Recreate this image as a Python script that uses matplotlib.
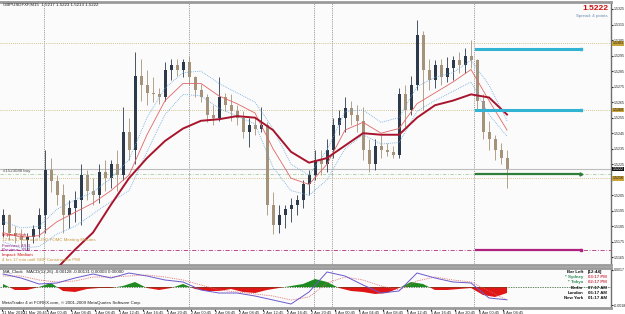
import matplotlib
matplotlib.use("Agg")
import matplotlib.pyplot as plt

plt.rcParams['font.family'] = ['Liberation Sans', 'DejaVu Sans']

W, H = 625, 314

# GBPUSD, bars (one per hour)
opens = [1.5186, 1.5192, 1.5181, 1.5179, 1.5176, 1.5178, 1.5183, 1.5192, 1.5221, 1.5214,
         1.5205, 1.5192, 1.5197, 1.5202, 1.5218, 1.5208, 1.5205, 1.5220, 1.5216, 1.5225,
         1.5218, 1.5246, 1.5234, 1.5282, 1.5276, 1.5271, 1.5270, 1.5268, 1.5286, 1.5289,
         1.5286, 1.5291, 1.5281, 1.5273, 1.5268, 1.5257, 1.5255, 1.5268, 1.5263, 1.5259,
         1.5255, 1.5246, 1.5250, 1.5248, 1.5250, 1.5199, 1.5186, 1.5192, 1.5196, 1.5199,
         1.5202, 1.5212, 1.5218, 1.5228, 1.5225, 1.5234, 1.5250, 1.5255, 1.5261, 1.5257,
         1.5253, 1.5234, 1.5225, 1.5237, 1.5234, 1.5233, 1.5231, 1.5270, 1.5260, 1.5276,
         1.5308, 1.5286, 1.5279, 1.5289, 1.5281, 1.5287, 1.5292, 1.5289, 1.5295, 1.5292,
         1.5266, 1.5246, 1.5241, 1.5234, 1.5229]
highs = [1.5196, 1.5193, 1.5185, 1.5183, 1.5181, 1.5186, 1.5197, 1.5234, 1.5229, 1.5218,
         1.5212, 1.5202, 1.5208, 1.5225, 1.5221, 1.5216, 1.5225, 1.5228, 1.5228, 1.5234,
         1.5262, 1.5255, 1.5297, 1.5293, 1.5286, 1.5281, 1.5274, 1.5291, 1.5293, 1.5293,
         1.5293, 1.5295, 1.5282, 1.5277, 1.5270, 1.5263, 1.5281, 1.5271, 1.5270, 1.5263,
         1.5259, 1.5255, 1.5255, 1.5262, 1.5252, 1.5207, 1.5199, 1.5199, 1.5203, 1.5205,
         1.5215, 1.5221, 1.5234, 1.5234, 1.5241, 1.5255, 1.5260, 1.5268, 1.5266, 1.5263,
         1.5262, 1.5241, 1.5241, 1.5244, 1.5239, 1.5237, 1.5274, 1.5276, 1.5282, 1.5318,
         1.5311, 1.5293, 1.5292, 1.5293, 1.5294, 1.5295, 1.5297, 1.5300, 1.5305, 1.5293,
         1.5270, 1.5253, 1.5244, 1.5239, 1.5234]
lows = [1.5178, 1.5176, 1.5174, 1.5172, 1.5170, 1.5174, 1.5178, 1.5181, 1.5207, 1.5199,
        1.5181, 1.5184, 1.5188, 1.5186, 1.5202, 1.5199, 1.5200, 1.5208, 1.5210, 1.5208,
        1.5215, 1.5228, 1.5225, 1.5266, 1.5263, 1.5265, 1.5264, 1.5266, 1.5279, 1.5282,
        1.5281, 1.5276, 1.5268, 1.5265, 1.5252, 1.5250, 1.5253, 1.5259, 1.5253, 1.5250,
        1.5242, 1.5236, 1.5244, 1.5246, 1.5192, 1.5180, 1.5181, 1.5184, 1.5188, 1.5192,
        1.5197, 1.5205, 1.5215, 1.5218, 1.5220, 1.5229, 1.5244, 1.5246, 1.5250, 1.5246,
        1.5228, 1.5220, 1.5221, 1.5229, 1.5230, 1.5229, 1.5229, 1.5249, 1.5257, 1.5273,
        1.5260, 1.5273, 1.5274, 1.5276, 1.5278, 1.5279, 1.5284, 1.5284, 1.5287, 1.5259,
        1.5241, 1.5234, 1.5228, 1.5225, 1.5210]
closes = [1.5192, 1.5181, 1.5179, 1.5176, 1.5178, 1.5183, 1.5192, 1.5221, 1.5214, 1.5205,
          1.5192, 1.5197, 1.5202, 1.5218, 1.5208, 1.5205, 1.5220, 1.5216, 1.5225, 1.5218,
          1.5246, 1.5234, 1.5282, 1.5276, 1.5271, 1.5270, 1.5268, 1.5286, 1.5289, 1.5286,
          1.5291, 1.5281, 1.5273, 1.5268, 1.5257, 1.5255, 1.5268, 1.5263, 1.5259, 1.5255,
          1.5246, 1.5250, 1.5248, 1.5250, 1.5199, 1.5186, 1.5192, 1.5196, 1.5199, 1.5202,
          1.5212, 1.5218, 1.5228, 1.5225, 1.5234, 1.5250, 1.5255, 1.5261, 1.5257, 1.5253,
          1.5234, 1.5225, 1.5237, 1.5234, 1.5233, 1.5231, 1.5270, 1.5260, 1.5276, 1.5308,
          1.5286, 1.5279, 1.5289, 1.5281, 1.5287, 1.5292, 1.5289, 1.5295, 1.5292, 1.5266,
          1.5246, 1.5241, 1.5234, 1.5229, 1.5222]

# moving averages, sampled every third bar
ma_idx = list(range(0, 85, 3))
slow_ma = [1.5144, 1.5147, 1.5152, 1.5158, 1.5170, 1.5181, 1.5199, 1.5216, 1.5229, 1.5240,
           1.5248, 1.5253, 1.5254, 1.5256, 1.5255, 1.5247, 1.5233, 1.5226, 1.5229, 1.5237,
           1.5245, 1.5244, 1.5244, 1.5255, 1.5263, 1.5266, 1.5270, 1.5268, 1.5257]
fast_ma = [1.5181, 1.5178, 1.5179, 1.5188, 1.5194, 1.5200, 1.5208, 1.5218, 1.5244, 1.5266,
           1.5277, 1.5277, 1.5269, 1.5264, 1.5258, 1.5235, 1.5216, 1.5212, 1.5225, 1.5247,
           1.5252, 1.5245, 1.5248, 1.5264, 1.5271, 1.5278, 1.5286, 1.5266, 1.5247]
band_hi = [1.5188, 1.5184, 1.5185, 1.5196, 1.5202, 1.5207, 1.5216, 1.5228, 1.5255, 1.5274,
           1.5284, 1.5285, 1.5277, 1.5271, 1.5265, 1.5248, 1.5225, 1.5218, 1.5234, 1.5259,
           1.5260, 1.5252, 1.5255, 1.5275, 1.5281, 1.5284, 1.5292, 1.5276, 1.5253]
band_lo = [1.5175, 1.5171, 1.5172, 1.5180, 1.5185, 1.5193, 1.5201, 1.5208, 1.5233, 1.5257,
           1.5270, 1.5269, 1.5261, 1.5256, 1.5251, 1.5223, 1.5208, 1.5205, 1.5215, 1.5235,
           1.5244, 1.5238, 1.5239, 1.5259, 1.5266, 1.5272, 1.5278, 1.5257, 1.5243]

# lower window
macd_main = [0.0013, 0.0009, 0.0003, 0.0004, 0.0009, 0.0013, 0.0009, 0.0014, 0.0011, 0.0007,
             0.0005, -0.0003, -0.0006, -0.0006, -0.0009, -0.0013, -0.0017, -0.0005, 0.0015, 0.0011,
             0.0002, -0.0006, -0.0004, 0.0014, 0.0009, 0.0005, 0.0004, -0.0011, -0.00128]
macd_signal = [0.0011, 0.0011, 0.0007, 0.0005, 0.0006, 0.0010, 0.0010, 0.0011, 0.0012, 0.0010,
               0.0007, 0.0002, -0.0003, -0.0005, -0.0007, -0.0009, -0.0013, -0.0010, 0.0004, 0.0010,
               0.0007, 0.0001, -0.0003, 0.0006, 0.0010, 0.0007, 0.0005, -0.0004, -0.00131]
hist_idx = list(range(0, 85, 2))
macd_hist = [0.0003, -0.0003, -0.0003, 0.0, 0.0004, -0.0004, -0.0005, -0.0002, -0.0001, -0.0001,
             0.0001, 0.0005, -0.0001, -0.0003, -0.0001, 0.0003, -0.0002, -0.0004, -0.0004, -0.0002,
             -0.0005, -0.0006, -0.0003, -0.0001, 0.0001, 0.0003, 0.0008, 0.0005, -0.0001, -0.0004,
             -0.0005, -0.0007, -0.0006, -0.0001, 0.0005, 0.0003, -0.0003, -0.0003, -0.0002, -0.0001,
             -0.0008, -0.0010, -0.0006]

price_ticks = [1.5325, 1.5315, 1.5305, 1.5295, 1.5285, 1.5275, 1.5265, 1.5255, 1.5245,
               1.5235, 1.5225, 1.5215, 1.5205, 1.5195, 1.5185, 1.5175, 1.5165]
time_ticks = [-0.2, 3.33, 7.33, 11.33, 15.33, 19.33, 23.33, 27.33, 31.33, 35.33, 39.33,
              43.33, 47.33, 51.33, 55.33, 59.33, 63.33, 67.33, 71.33, 75.33, 79.33, 83.33]
time_labels = ['31 Mar 2010', '31 Mar 20:45', '1 Apr 00:45', '1 Apr 04:45', '1 Apr 08:45',
               '1 Apr 12:45', '1 Apr 16:45', '1 Apr 20:45', '2 Apr 00:45', '2 Apr 04:45',
               '2 Apr 08:45', '2 Apr 12:45', '2 Apr 16:45', '2 Apr 20:45', '5 Apr 00:45',
               '5 Apr 04:45', '5 Apr 08:45', '5 Apr 12:45', '5 Apr 16:45', '5 Apr 20:45',
               '6 Apr 00:45', '6 Apr 04:45']
day_breaks = [6.8, 31.0, 51.8, 54.8, 78.5]

tp_levels = [1.5299, 1.5260]
order_level = 1.5219
stop_level = 1.5170
alert_levels = [1.5303, 1.5260, 1.5216]
bid = 1.5222
seg_x0, seg_x1 = 78.8, 96.3

BULL = '#2c3a4c'
BEAR = '#a4937a'
TXT = 3.2
AXT = 2.6


def fpx(x, y):
    return x / W, 1 - y / H


fig = plt.figure(figsize=(W / 100, H / 100), dpi=100)
fig.patch.set_facecolor('white')
ax = fig.add_axes([0, 49 / H, 611 / W, 263 / H])
axi = fig.add_axes([0, 6 / H, 611 / W, 40 / H], sharex=ax)

for a in (ax, axi):
    a.set_facecolor('#fbfbfb')
    a.spines['left'].set_visible(False)
    a.spines['right'].set_color('#707070')
    a.spines['right'].set_linewidth(1.0)
    a.spines['top'].set_color('#9a9a9a')
    a.spines['top'].set_linewidth(2.0)
    a.spines['bottom'].set_color('#9a9a9a')
    a.spines['bottom'].set_linewidth(2.0)
    for xb in day_breaks:
        a.axvline(xb, color='#808080', lw=0.6, ls=(0, (1, 1.2)), zorder=1)

ax.set_xlim(-0.5, 101.33)
ax.set_ylim(1.51601, 1.53295)

# horizontal alert / order lines
for lv in alert_levels:
    ax.axhline(lv, color='#c8b070', lw=0.6, ls=(0, (1, 1.5)), zorder=1)
ax.axhline(bid, color='#bdbdbd', lw=0.8, zorder=1)
ax.axhline(order_level, color='#9fd09f', lw=0.6, ls=(0, (4, 2, 1, 2)), zorder=1)
ax.axhline(stop_level, color='#b0307a', lw=0.6, ls=(0, (5, 2, 1, 2)), zorder=1)

# candles
xs = list(range(len(closes)))
cols = [BULL if c >= o else BEAR for o, c in zip(opens, closes)]
ax.vlines(xs, lows, highs, colors=cols, lw=0.6, zorder=3)
body = [max(abs(c - o), 0.00004) for o, c in zip(opens, closes)]
ax.bar(xs, body, bottom=[min(o, c) for o, c in zip(opens, closes)], width=0.5,
       color=cols, lw=0, zorder=3)

# moving averages
ax.plot(ma_idx, band_hi, color='#6aa6dc', lw=0.6, ls=(0, (1, 1.3)), zorder=4)
ax.plot(ma_idx, band_lo, color='#6aa6dc', lw=0.6, ls=(0, (1, 1.3)), zorder=4)
ax.plot(ma_idx, fast_ma, color='#e06666', lw=0.6, zorder=4)
ax.plot(ma_idx, slow_ma, color='#a8142c', lw=1.4, zorder=4)

# trade levels on the last day
for lv in tp_levels:
    ax.plot([seg_x0, seg_x1], [lv, lv], color='#33b3d3', lw=2.2, zorder=5)
    ax.plot([seg_x1], [lv], marker='s', ms=2, color='#33b3d3', zorder=5)
ax.plot([seg_x0, seg_x1], [order_level, order_level], color='#2e7d3a', lw=1.6, zorder=5)
ax.plot([seg_x1], [order_level], marker='>', ms=2.2, color='#2e7d3a', zorder=5)
ax.plot([seg_x0, seg_x1], [stop_level, stop_level], color='#b0207e', lw=1.6, zorder=5)
ax.plot([seg_x1], [stop_level], marker='s', ms=2, color='#b0207e', zorder=5)

# price axis on the right
ax.yaxis.tick_right()
ax.set_yticks(price_ticks)
ax.set_yticklabels([f'{p:.4f}' for p in price_ticks])
ax.tick_params(axis='y', labelsize=AXT, length=1.5, pad=0.3, colors='#202020')
ax.tick_params(axis='x', bottom=False, labelbottom=False)
ytf = ax.get_yaxis_transform()
for lv in alert_levels:
    ax.text(1.003, lv, f'{lv:.4f}', transform=ytf, fontsize=AXT, va='center', ha='left',
            color='#1a1a1a', bbox=dict(boxstyle='square,pad=0.1', fc='#c9a43a', ec='none'),
            clip_on=False, zorder=6)
ax.text(1.003, bid, f'{bid:.4f}', transform=ytf, fontsize=AXT, va='center', ha='left',
        color='white', bbox=dict(boxstyle='square,pad=0.1', fc='#111111', ec='none'),
        clip_on=False, zorder=6)

# lower window: histogram + lines
axi.set_ylim(-0.0021, 0.0019)
axi.fill_between(hist_idx, macd_hist, 0, where=[v >= 0 for v in macd_hist],
                 interpolate=True, color='#1f8a1f', lw=0, zorder=2)
axi.fill_between(hist_idx, macd_hist, 0, where=[v <= 0 for v in macd_hist],
                 interpolate=True, color='#e01616', lw=0, zorder=2)
axi.axhline(0, color='#2a5a2a', lw=0.5, ls=(0, (2, 1.5)), zorder=3)
axi.plot(ma_idx, macd_signal, color='#e06060', lw=0.6, ls=(0, (1, 1.2)), zorder=4)
axi.plot(ma_idx, macd_main, color='#6a5acd', lw=0.7, zorder=4)
axi.yaxis.tick_right()
axi.set_yticks([0.00175, -0.00181])
axi.set_yticklabels(['0.0017', '-0.0018'])
axi.tick_params(axis='y', labelsize=AXT, length=1.5, pad=0.3, colors='#202020')

axi.set_xticks(time_ticks)
axi.set_xticklabels(time_labels)
axi.tick_params(axis='x', labelsize=2.9, length=2, pad=0.5, colors='#202020')
for lab in axi.get_xticklabels():
    lab.set_horizontalalignment('left')

# texts
fig.text(*fpx(3, 5), 'GBPUSDFXF,M15  1.5217 1.5223 1.5213 1.5222', fontsize=TXT,
         color='#202020', va='center')
fig.text(*fpx(608, 8), '1.5222', fontsize=6, fontweight='bold', color='#d01010',
         ha='right', va='center')
fig.text(*fpx(608, 16), 'Spread: 4 points', fontsize=TXT, color='#6a8ab0',
         ha='right', va='center')
fig.text(*fpx(3, 171), '#1523088 buy', fontsize=TXT, color='#505050', va='center')

news = [('Impact: High', '#d01010', 235),
        ('12 hrs 17 min until USD FOMC Meeting Minutes', '#c89a40', 240),
        ('Forecast: 49.3', '#8a208a', 246),
        ('Previous: 49.3', '#8a208a', 250),
        ('Impact: Medium', '#d01010', 255),
        ('4 hrs 17 min until GBP Construction PMI', '#c89a40', 260)]
for txt, col, yy in news:
    fig.text(*fpx(2, yy), txt, fontsize=TXT, color=col, va='center')

fig.text(*fpx(3, 272), 'MA_Clock   MACD(12,26) -0.00128 -0.00131 0.00003 0.00000',
         fontsize=TXT, color='#202020', va='center')
fig.text(*fpx(2, 303), 'MetaTrader 4 at FOREX.com, \u00a9 2001-2009 MetaQuotes Software Corp.',
         fontsize=TXT, color='#202020', va='center')

clock = [('Bar Left', '[12:44]', '#111111', '#111111'),
         ('* Sydney', '03:17 PM', '#2e8b57', '#d04050'),
         ('* Tokyo', '02:17 PM', '#2e8b57', '#d04050'),
         ('Berlin', '07:17 AM', '#111111', '#111111'),
         ('London', '06:17 AM', '#111111', '#111111'),
         ('New York', '01:17 AM', '#111111', '#111111')]
for k, (name, val, c1, c2) in enumerate(clock):
    yy = 272 + 5.2 * k
    fig.text(*fpx(583, yy), name, fontsize=TXT, color=c1, ha='right', va='center',
             fontweight='bold')
    fig.text(*fpx(588, yy), val, fontsize=TXT, color=c2, ha='left', va='center',
             fontweight='bold')

fig.savefig('out.png', dpi=100, facecolor=fig.get_facecolor())
